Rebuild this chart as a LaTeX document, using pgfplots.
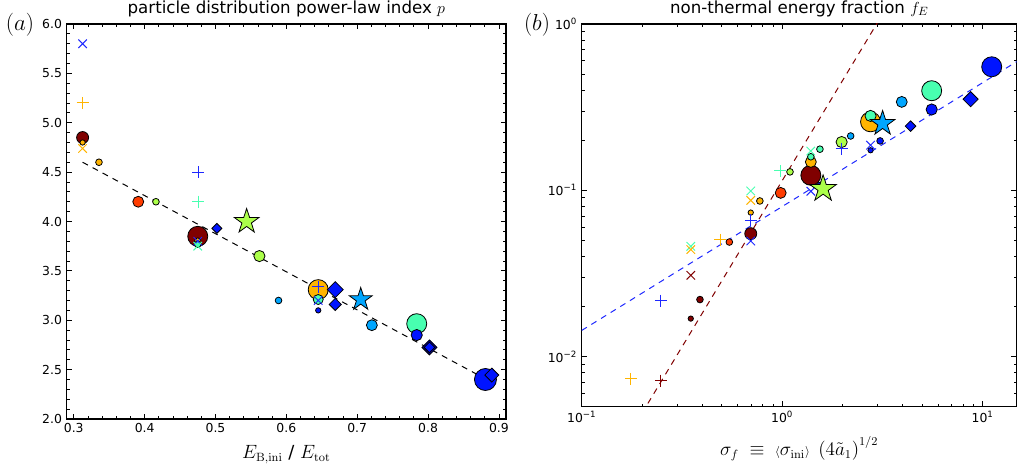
\documentclass[border=0pt]{standalone}
\usepackage[no-math]{fontspec}
\setmainfont{DejaVu Sans}
\usepackage{pgfplots}
\pgfplotsset{compat=1.18}

\definecolor{cdr}{RGB}{128,0,0}
\definecolor{cro}{RGB}{255,60,0}
\definecolor{cor}{RGB}{255,180,0}
\definecolor{cyg}{RGB}{172,255,74}
\definecolor{caq}{RGB}{72,255,176}
\definecolor{clb}{RGB}{0,166,255}
\definecolor{cbl}{RGB}{0,20,255}
\definecolor{cnv}{RGB}{0,0,150}
\definecolor{cpb}{RGB}{30,40,255}
\definecolor{cdash}{RGB}{30,40,255}

\pgfdeclareplotmark{fstar}{%
  \pgfpathmoveto{\pgfpointpolar{90}{\pgfplotmarksize}}%
  \pgfpathlineto{\pgfpointpolar{126}{0.382\pgfplotmarksize}}%
  \pgfpathlineto{\pgfpointpolar{162}{\pgfplotmarksize}}%
  \pgfpathlineto{\pgfpointpolar{198}{0.382\pgfplotmarksize}}%
  \pgfpathlineto{\pgfpointpolar{234}{\pgfplotmarksize}}%
  \pgfpathlineto{\pgfpointpolar{270}{0.382\pgfplotmarksize}}%
  \pgfpathlineto{\pgfpointpolar{306}{\pgfplotmarksize}}%
  \pgfpathlineto{\pgfpointpolar{342}{0.382\pgfplotmarksize}}%
  \pgfpathlineto{\pgfpointpolar{18}{\pgfplotmarksize}}%
  \pgfpathlineto{\pgfpointpolar{54}{0.382\pgfplotmarksize}}%
  \pgfpathclose
  \pgfusepathqfillstroke
}

\pgfplotsset{
  cm/.style 2 args={only marks, mark=*, mark size=#2, color=black,
     mark options={solid, line width=0.6pt, fill=#1, draw=black}},
  dm/.style 2 args={only marks, mark=square*, mark size=#2, color=black,
     mark options={solid, rotate=45, line width=0.6pt, fill=#1, draw=black}},
  st/.style 2 args={only marks, mark=fstar, mark size=#2, color=black,
     mark options={solid, line width=0.6pt, fill=#1, draw=black, line join=miter}},
  pl/.style 2 args={only marks, mark=+, mark size=#2, color=#1,
     mark options={solid, line width=0.75pt, draw=#1}},
  xx/.style 2 args={only marks, mark=x, mark size=#2, color=#1,
     mark options={solid, line width=0.75pt, draw=#1}},
  every axis/.append style={
    scale only axis,
    anchor=south west,
    axis line style={line width=0.8pt},
    every tick/.style={black, line width=0.6pt},
    major tick length=4pt,
    minor tick length=2.2pt,
    tick align=inside,
    tick label style={font=\fontsize{9.3}{11}\selectfont},
    title style={font=\fontsize{12.5}{14}\selectfont, yshift=-4pt},
    clip=true,
  },
}

\begin{document}
\begin{tikzpicture}
\useasboundingbox (0,0) rectangle (762.75pt,352.5pt);

% ---------------- left panel ----------------
\begin{axis}[
  at={(50pt,38.25pt)},
  width=329.5pt, height=296.25pt,
  xmin=0.29, xmax=0.91, ymin=2, ymax=6,
  xtick={0.3,0.4,0.5,0.6,0.7,0.8,0.9},
  ytick={2,2.5,3,3.5,4,4.5,5,5.5,6},
  minor x tick num=4, minor y tick num=4,
  /pgf/number format/assume math mode=true,
  /pgf/number format/fixed, /pgf/number format/fixed zerofill,
  /pgf/number format/precision=1,
  title={particle distribution power-law index $p$},
  xlabel={$E_{\mathrm{B,ini}}$ / $E_{\mathrm{tot}}$},
  xlabel style={font=\fontsize{13.5}{16}\selectfont, yshift=-2.5pt},
]
\addplot[black, dashed, dash pattern=on 4.5pt off 4pt, line width=0.75pt, no marks]
  coordinates {(0.3125,4.60) (0.88,2.41)};
% large circles
\addplot[cm={cdr}{7.5pt}] coordinates {(0.475,3.85)};
\addplot[cm={cor}{7.5pt}] coordinates {(0.645,3.31)};
\addplot[cm={caq}{7.5pt}] coordinates {(0.784,2.965)};
\addplot[cm={cbl}{8.25pt}] coordinates {(0.881,2.40)};
% medium circles
\addplot[cm={cdr}{4.5pt}] coordinates {(0.3125,4.85)};
\addplot[cm={cro}{4.1pt}] coordinates {(0.391,4.20)};
\addplot[cm={cyg}{4.2pt}] coordinates {(0.562,3.65)};
\addplot[cm={caq}{3.75pt}] coordinates {(0.645,3.21)};
\addplot[cm={clb}{4.1pt}] coordinates {(0.7207,2.95)};
\addplot[cm={cbl}{4.2pt}] coordinates {(0.784,2.85)};
% small circles
\addplot[cm={cor}{2.5pt}] coordinates {(0.3356,4.60) (0.475,3.80)};
\addplot[cm={cyg}{2.5pt}] coordinates {(0.416,4.20)};
\addplot[cm={clb}{2.5pt}] coordinates {(0.589,3.20)};
\addplot[cm={caq}{2.5pt}] coordinates {(0.475,3.77)};
% tiny circles
\addplot[cm={cor}{2pt}] coordinates {(0.3125,4.80)};
\addplot[cm={cbl}{2pt}] coordinates {(0.645,3.10)};
% diamonds
\addplot[dm={cbl}{2.65pt}] coordinates {(0.502,3.93)};
\addplot[dm={cbl}{4.24pt}] coordinates {(0.669,3.31)};
\addplot[dm={cbl}{3.2pt}] coordinates {(0.669,3.16)};
\addplot[dm={cnv}{4.0pt}] coordinates {(0.802,2.725)};
\addplot[dm={cbl}{2.8pt}] coordinates {(0.802,2.725)};
\addplot[dm={cbl}{3.7pt}] coordinates {(0.890,2.445)};
% crosses
\addplot[xx={cpb}{4.5pt}] coordinates {(0.3125,5.80) (0.475,3.80) (0.645,3.20)};
\addplot[xx={cor}{4.5pt}] coordinates {(0.3125,4.74)};
\addplot[xx={caq}{4.5pt}] coordinates {(0.475,3.75)};
% plus
\addplot[pl={cor}{4.5pt}] coordinates {(0.3125,5.20)};
\addplot[pl={cpb}{4.5pt}] coordinates {(0.476,4.50) (0.645,3.34)};
\addplot[pl={caq}{4.5pt}] coordinates {(0.476,4.20)};
% stars
\addplot[st={cyg}{9.75pt}] coordinates {(0.544,4.00)};
\addplot[st={clb}{9pt}] coordinates {(0.705,3.21)};
\end{axis}

% ---------------- right panel ----------------
\begin{axis}[
  at={(436.3pt,47.6pt)},
  width=326.25pt, height=286.9pt,
  xmode=log, ymode=log,
  xmin=0.1, xmax=14.8, ymin=0.005, ymax=1,
  xtick={0.1,1,10},
  xticklabels={10\textsuperscript{−1},10\textsuperscript{0},10\textsuperscript{1}},
  minor xtick={0.2,0.3,0.4,0.5,0.6,0.7,0.8,0.9,2,3,4,5,6,7,8,9},
  ytick={0.01,0.1,1},
  yticklabels={10\textsuperscript{−2},10\textsuperscript{−1},10\textsuperscript{0}},
  minor ytick={0.006,0.007,0.008,0.009,0.02,0.03,0.04,0.05,0.06,0.07,0.08,0.09,0.2,0.3,0.4,0.5,0.6,0.7,0.8,0.9},
  title={non-thermal energy fraction $f_E$},
  xlabel={$\sigma_f\;\equiv\;{\scriptstyle\langle}\sigma_{\mathrm{ini}}{\scriptstyle\rangle}\;\left(4\tilde{a}_1\right)^{1/2}$},
  xlabel style={font=\fontsize{13.5}{16}\selectfont, yshift=-3pt},
]
\addplot[cdash, dashed, dash pattern=on 4.5pt off 4pt, line width=0.75pt, no marks]
  coordinates {(0.1,0.01435) (15,0.60)};
\addplot[cdr, dashed, dash pattern=on 4.5pt off 4pt, line width=0.75pt, no marks]
  coordinates {(0.2,0.004565) (3.1,1.0968)};
% large circles
\addplot[cm={cdr}{7.5pt}] coordinates {(1.39,0.123)};
\addplot[cm={cor}{7.5pt}] coordinates {(2.76,0.258)};
\addplot[cm={caq}{7.5pt}] coordinates {(5.57,0.397)};
\addplot[cm={cbl}{7.5pt}] coordinates {(11.1,0.553)};
% medium circles
\addplot[cm={cdr}{4.5pt}] coordinates {(0.697,0.0548)};
\addplot[cm={cro}{4.1pt}] coordinates {(0.983,0.0964)};
\addplot[cm={cor}{4.1pt}] coordinates {(1.39,0.148)};
\addplot[cm={cyg}{4.2pt}] coordinates {(1.98,0.195)};
\addplot[cm={caq}{4.2pt}] coordinates {(2.76,0.28)};
\addplot[cm={clb}{4.1pt}] coordinates {(3.95,0.34)};
\addplot[cm={cbl}{4.2pt}] coordinates {(5.57,0.306)};
% small circles
\addplot[cm={cdr}{2.5pt}] coordinates {(0.389,0.022)};
\addplot[cm={cro}{2.5pt}] coordinates {(0.545,0.0488)};
\addplot[cm={cor}{2.5pt}] coordinates {(0.774,0.0862)};
\addplot[cm={cyg}{2.5pt}] coordinates {(1.094,0.129)};
\addplot[cm={caq}{2.5pt}] coordinates {(1.39,0.159) (1.543,0.1766)};
\addplot[cm={clb}{2.5pt}] coordinates {(2.196,0.212)};
\addplot[cm={cbl}{2.5pt}] coordinates {(1.55,0.107) (3.08,0.198)};
% tiny circles
\addplot[cm={cdr}{2pt}] coordinates {(0.35,0.0169)};
\addplot[cm={cor}{2pt}] coordinates {(0.697,0.0734)};
\addplot[cm={cbl}{2pt}] coordinates {(2.76,0.174)};
% diamonds
\addplot[dm={cbl}{2.8pt}] coordinates {(4.37,0.243)};
\addplot[dm={cbl}{4.0pt}] coordinates {(8.71,0.353)};
% crosses
\addplot[xx={cdr}{4.5pt}] coordinates {(0.35,0.0308)};
\addplot[xx={caq}{4.5pt}] coordinates {(0.35,0.046) (0.697,0.099) (1.39,0.172)};
\addplot[xx={cor}{4.5pt}] coordinates {(0.35,0.044) (0.697,0.087)};
\addplot[xx={cpb}{4.5pt}] coordinates {(0.697,0.0495) (1.39,0.0986) (2.76,0.1867)};
% plus
\addplot[pl={cor}{4.5pt}] coordinates {(0.176,0.00734) (0.49,0.0505)};
\addplot[pl={cdr}{4.5pt}] coordinates {(0.248,0.00717)};
\addplot[pl={cpb}{4.5pt}] coordinates {(0.248,0.0217) (0.697,0.066) (1.98,0.178)};
\addplot[pl={caq}{4.5pt}] coordinates {(0.98,0.1306)};
% stars
\addplot[st={cyg}{10.5pt}] coordinates {(1.60,0.102)};
\addplot[st={clb}{9.75pt}] coordinates {(3.17,0.252)};
\end{axis}

\node[font=\fontsize{17}{20}\selectfont] at (15pt,333.75pt) {$(a)$};
\node[font=\fontsize{17}{20}\selectfont] at (402.75pt,333.75pt) {$(b)$};
\end{tikzpicture}
\end{document}
